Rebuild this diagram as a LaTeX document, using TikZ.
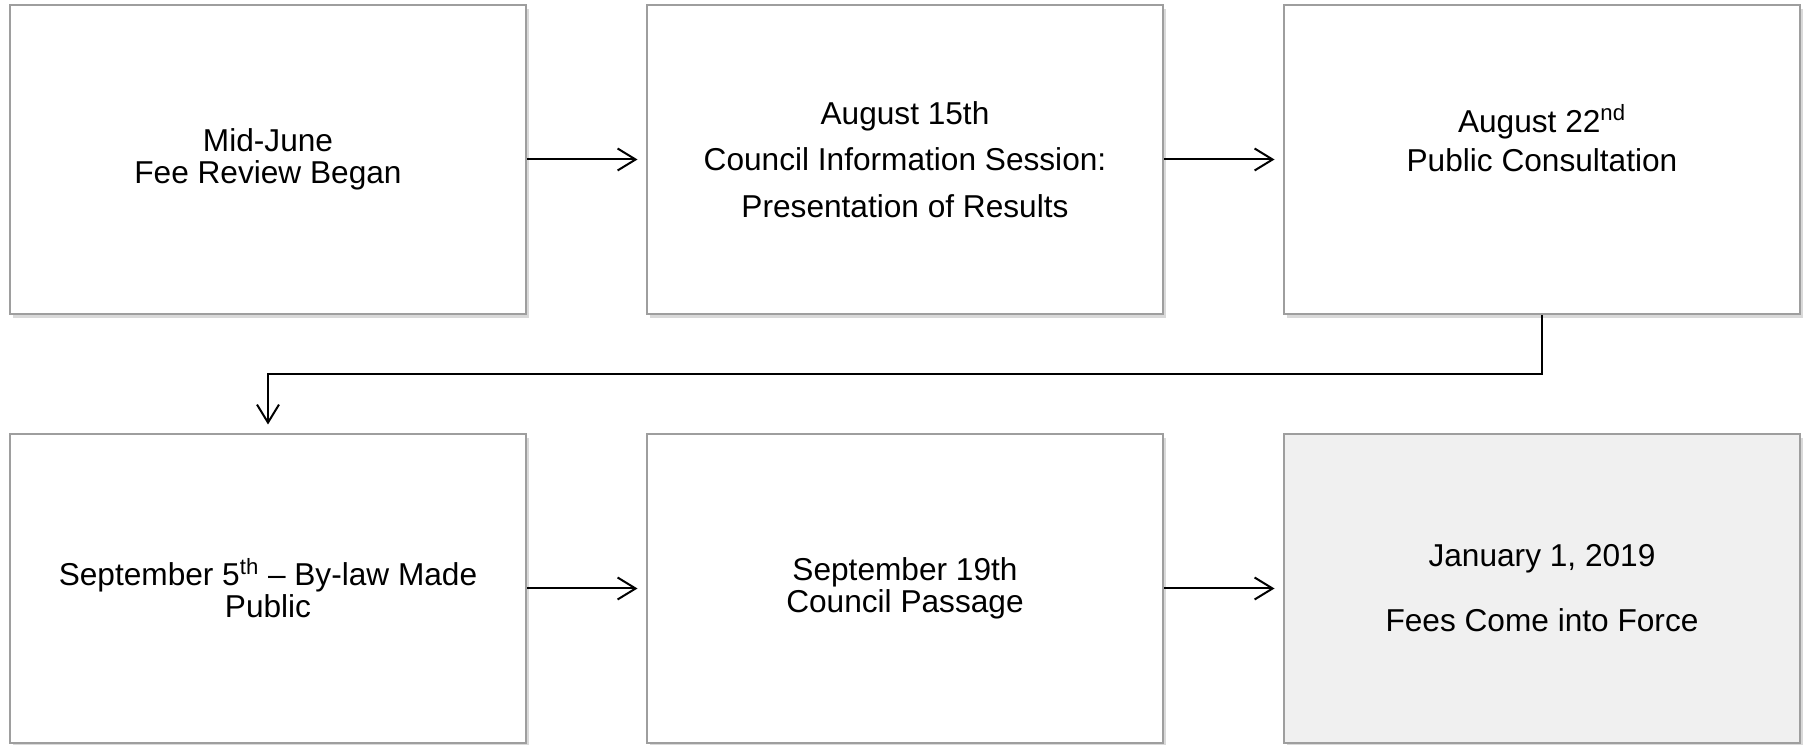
\documentclass[tikz,border=0pt]{standalone}
\usepackage{fontspec}
\setmainfont{Liberation Sans}
\usetikzlibrary{matrix,shadows,arrows.meta}
\newcommand\stepto[2]{\draw[flow](#1)--(#2);}

\begin{document}
\begin{tikzpicture}
    \tikzset{
        stage/.style={draw=black!38,line width=.04cm,fill=white,minimum width=10.32cm,minimum height=6.18cm,
            align=center,inner sep=0pt,font=\fontsize{18}{18.2}\selectfont,
            drop shadow={shadow xshift=.06cm,shadow yshift=-.08cm,opacity=.3}},
        flow/.style={-{Straight Barb[length=.36cm,width=.44cm]},line width=.04cm,shorten >=.17cm},
    }
    \useasboundingbox (0,0) rectangle (36.14,14.9);
    \matrix(tl) at (18.1,7.42) [column sep=2.38cm,row sep=2.36cm] {
 \node(s1)[stage]{Mid-June\\Fee Review Began};
 & \node(s2)[stage]{August 15th\\[8.2pt]Council Information Session:\\[8.2pt]Presentation of Results};
 & \node(s3)[stage,text depth=.86cm]{August 22\textsuperscript{nd}\\[4pt]Public Consultation}; \\
 \node(s4)[stage]{September 5\textsuperscript{th} -- By-law Made\\Public};
 & \node(s5)[stage]{September 19th\\Council Passage};
 & \node(s6)[stage,fill=black!6]{January 1, 2019\\[18.8pt]Fees Come into Force}; \\
    };
    \stepto{s1}{s2}
    \stepto{s2}{s3}
    \draw[flow] (s3.south) -- ++(0,-1.18) -| (s4.north);
    \stepto{s4}{s5}
    \stepto{s5}{s6}
\end{tikzpicture}
\end{document}
